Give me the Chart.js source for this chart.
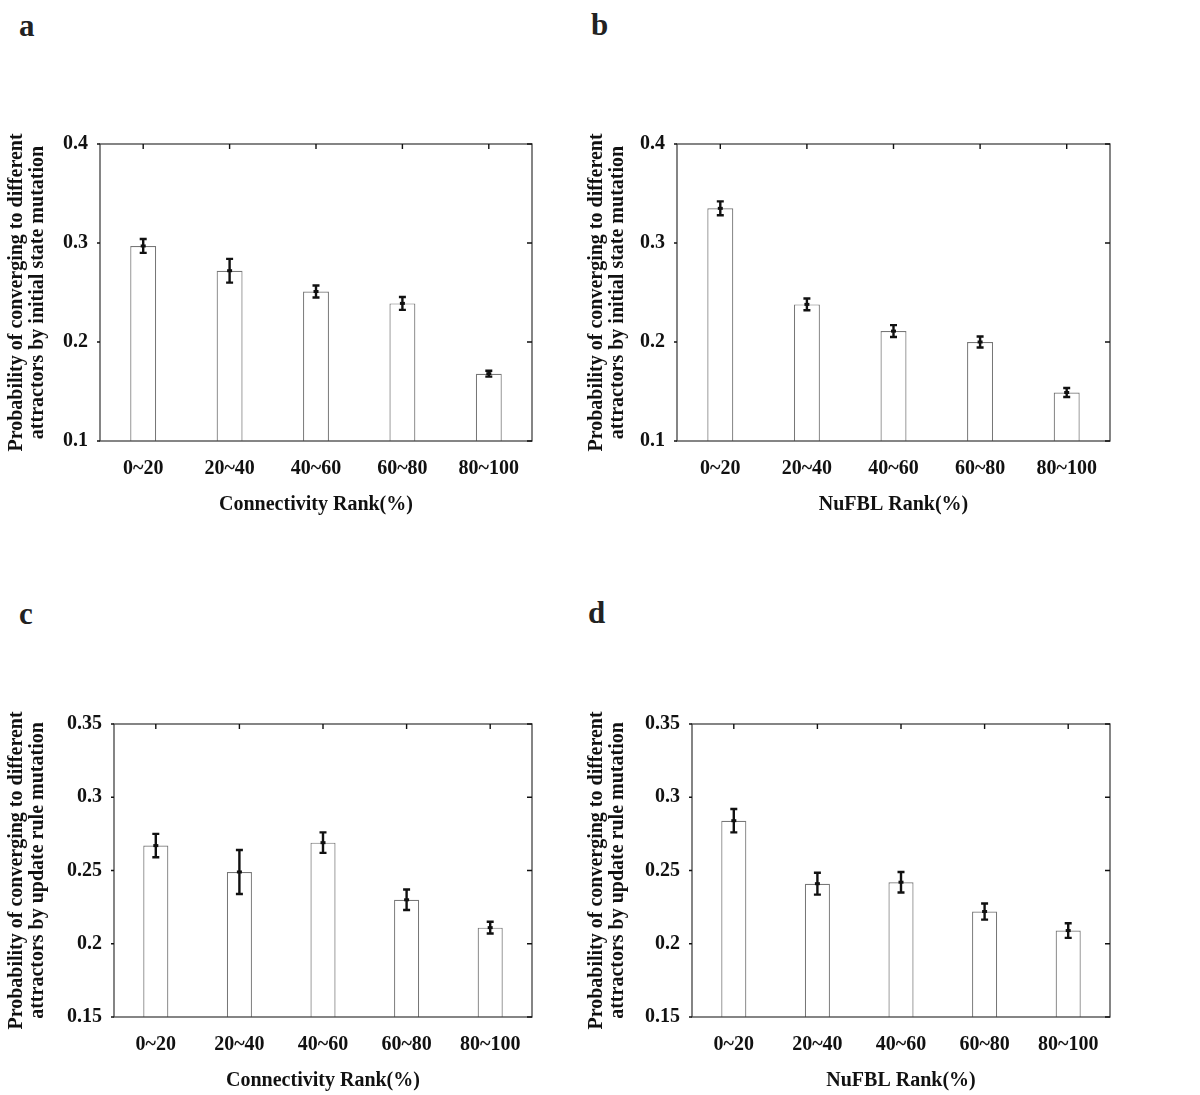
<!DOCTYPE html>
<html>
<head>
<meta charset="utf-8">
<script src="https://cdn.jsdelivr.net/npm/chart.js@4/dist/chart.umd.min.js"></script>
<style>
  body { margin: 0; background: #fff; width: 1200px; height: 1095px; position: relative; overflow: hidden; }
  .panel { position: absolute; }
  .letter { position: absolute; font-family: "Liberation Serif", serif; font-weight: bold; font-size: 31px; color: #222; line-height: 1; }
</style>
</head>
<body>
<div class="letter" style="left:19px;top:10px">a</div>
<div class="letter" style="left:591px;top:9px">b</div>
<div class="letter" style="left:19px;top:598px">c</div>
<div class="letter" style="left:588px;top:597px">d</div>

<div class="panel" style="left:0px;top:120px"><canvas id="chartA" width="565" height="400"></canvas></div>
<div class="panel" style="left:580px;top:120px"><canvas id="chartB" width="565" height="400"></canvas></div>
<div class="panel" style="left:0px;top:700px"><canvas id="chartC" width="565" height="396"></canvas></div>
<div class="panel" style="left:580px;top:700px"><canvas id="chartD" width="565" height="396"></canvas></div>

<script>
// categories (rank bins)
const rankBins = ['0~20', '20~40', '40~60', '60~80', '80~100'];

// y tick labels
const ticksInitState = [0.1, 0.2, 0.3, 0.4];
const ticksUpdateRule = [0.15, 0.2, 0.25, 0.3, 0.35];

// a: connectivity, initial state mutation
const connInitMean = [0.297, 0.272, 0.251, 0.239, 0.168];
const connInitErr = [0.007, 0.012, 0.006, 0.0065, 0.003];
// b: NuFBL, initial state mutation
const nufblInitMean = [0.335, 0.238, 0.211, 0.200, 0.149];
const nufblInitErr = [0.007, 0.006, 0.006, 0.0055, 0.0045];
// c: connectivity, update rule mutation
const connRuleMean = [0.267, 0.249, 0.269, 0.230, 0.211];
const connRuleErr = [0.008, 0.015, 0.007, 0.007, 0.004];
// d: NuFBL, update rule mutation
const nufblRuleMean = [0.284, 0.241, 0.242, 0.222, 0.209];
const nufblRuleErr = [0.008, 0.0075, 0.007, 0.0055, 0.005];

const serif = '"Liberation Serif", "DejaVu Serif", serif';

// error bars with small caps and a dot at the mean
const errorBarPlugin = {
  id: 'errorBars',
  afterDatasetsDraw(chart, args, opts) {
    const ctx = chart.ctx;
    const xs = chart.scales.x, ys = chart.scales.y;
    const means = chart.data.datasets[0].data;
    ctx.save();
    ctx.strokeStyle = '#111';
    ctx.fillStyle = '#111';
    ctx.lineWidth = 2.4;
    means.forEach((m, i) => {
      const x = xs.getPixelForValue(i);
      const y1 = ys.getPixelForValue(m + opts.err[i]);
      const y2 = ys.getPixelForValue(m - opts.err[i]);
      const cap = 3.5;
      ctx.beginPath();
      ctx.moveTo(x, y1); ctx.lineTo(x, y2);
      ctx.moveTo(x - cap, y1); ctx.lineTo(x + cap, y1);
      ctx.moveTo(x - cap, y2); ctx.lineTo(x + cap, y2);
      ctx.stroke();
      const ym = ys.getPixelForValue(m);
      ctx.fillRect(x - 2.5, ym - 1.5, 5, 3);
    });
    ctx.restore();
  }
};

// box around the plot, with inward ticks on top and right
const framePlugin = {
  id: 'frame',
  afterDraw(chart) {
    const {ctx, chartArea: a} = chart;
    const xs = chart.scales.x, ys = chart.scales.y;
    ctx.save();
    ctx.strokeStyle = '#444';
    ctx.lineWidth = 1.3;
    ctx.strokeRect(a.left, a.top, a.right - a.left, a.bottom - a.top);
    ctx.strokeStyle = '#111';
    ctx.lineWidth = 1.4;
    ctx.beginPath();
    xs.ticks.forEach((t, i) => {
      const x = xs.getPixelForTick(i);
      ctx.moveTo(x, a.top); ctx.lineTo(x, a.top + 5);
    });
    ys.ticks.forEach((t, i) => {
      const y = ys.getPixelForTick(i);
      ctx.moveTo(a.right, y); ctx.lineTo(a.right - 5, y);
      ctx.moveTo(a.left, y); ctx.lineTo(a.left - 3, y);
    });
    ctx.stroke();
    ctx.restore();
  }
};

function makePanel(id, means, errs, yTicks, xTitle, yTitle, box) {
  const canvas = document.getElementById(id);
  const W = canvas.width, H = canvas.height;
  new Chart(canvas.getContext('2d'), {
    type: 'bar',
    data: {
      labels: rankBins,
      datasets: [{
        data: means,
        backgroundColor: '#fff',
        borderColor: '#777',
        borderWidth: 1.2,
        barPercentage: 0.30,
        categoryPercentage: 1
      }]
    },
    options: {
      responsive: false,
      animation: false,
      layout: { padding: { left: 0, top: box.top, right: W - box.right, bottom: 0 } },
      plugins: {
        legend: { display: false },
        tooltip: { enabled: false },
        errorBars: { err: errs }
      },
      scales: {
        x: {
          grid: { display: false, drawTicks: false },
          border: { display: false },
          ticks: { color: '#111', padding: 16, font: { family: serif, weight: 'bold', size: 20 } },
          title: {
            display: true, text: xTitle, color: '#111',
            font: { family: serif, weight: 'bold', size: 20, lineHeight: 1.1 },
            padding: { top: 0, bottom: 4 }
          },
          afterFit(s) { s.height = H - box.bottom; }
        },
        y: {
          min: yTicks[0],
          max: yTicks[yTicks.length - 1],
          grid: { display: false, drawTicks: false },
          border: { display: false },
          afterBuildTicks(s) { s.ticks = yTicks.map(v => ({ value: v })); },
          ticks: {
            color: '#111', padding: 12,
            font: { family: serif, weight: 'bold', size: 20 },
            callback: v => String(+v.toFixed(2))
          },
          title: {
            display: true, text: yTitle, color: '#111',
            font: { family: serif, weight: 'bold', size: 20, lineHeight: 1.05 },
            padding: { top: 6.5, bottom: 0 }
          },
          afterFit(s) { s.width = box.left; }
        }
      }
    },
    plugins: [errorBarPlugin, framePlugin]
  });
}

const titleInit = ['Probability of converging to different', 'attractors by initial state mutation'];
const titleRule = ['Probability of converging to different', 'attractors by update rule mutation'];

makePanel('chartA', connInitMean, connInitErr, ticksInitState, 'Connectivity Rank(%)', titleInit,
  { left: 100, right: 532, top: 23, bottom: 321 });
makePanel('chartB', nufblInitMean, nufblInitErr, ticksInitState, 'NuFBL Rank(%)', titleInit,
  { left: 97, right: 530, top: 23, bottom: 321 });
makePanel('chartC', connRuleMean, connRuleErr, ticksUpdateRule, 'Connectivity Rank(%)', titleRule,
  { left: 114, right: 532, top: 18, bottom: 317 });
makePanel('chartD', nufblRuleMean, nufblRuleErr, ticksUpdateRule, 'NuFBL Rank(%)', titleRule,
  { left: 112, right: 530, top: 18, bottom: 317 });
</script>
</body>
</html>
